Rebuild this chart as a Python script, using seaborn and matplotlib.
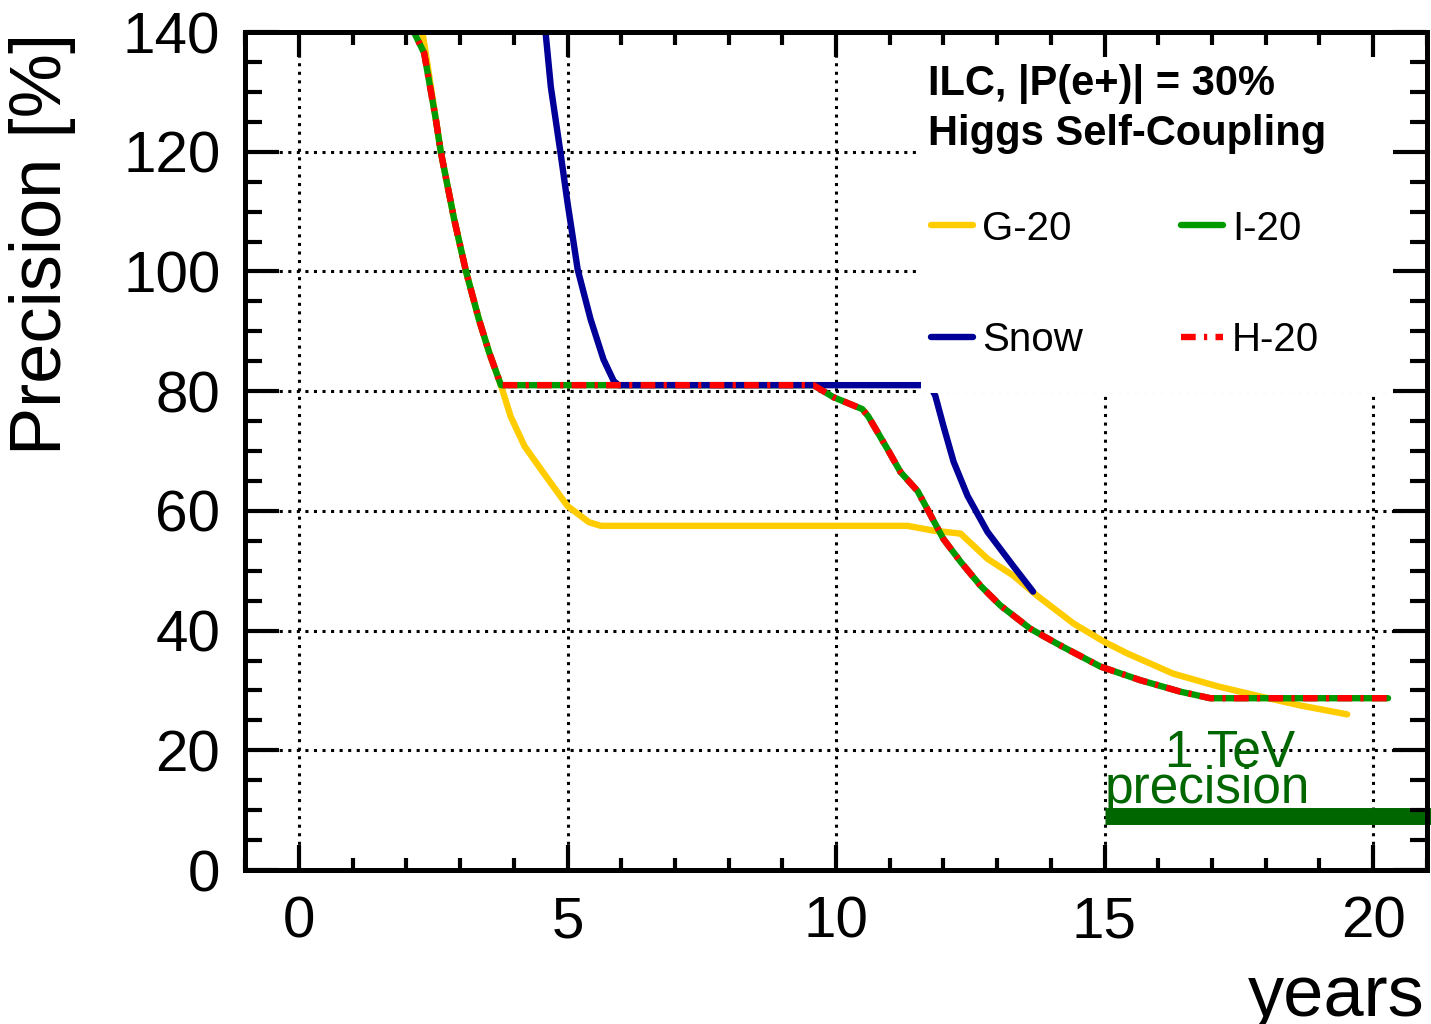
import matplotlib
matplotlib.use("Agg")
import matplotlib.pyplot as plt
from matplotlib.patches import Rectangle
from matplotlib.ticker import MultipleLocator
import pandas as pd
import seaborn as sns

# ---------------- data ----------------
g20_years = [2.28, 2.36, 2.55, 2.64, 2.89, 3.11, 3.35, 3.54, 3.76, 3.94, 4.2, 4.5,
             5.0, 5.4, 5.62, 11.33, 11.81, 12.32, 12.82, 13.3, 13.75, 14.42, 14.98,
             15.42, 16.28, 17.1, 17.9, 18.64, 19.52]
g20_prec = [141.0, 136.5, 125.3, 120.0, 108.7, 100.0, 92.0, 86.5, 81.0, 75.8, 70.8, 67.0,
            60.8, 58.1, 57.5, 57.5, 56.7, 56.2, 52.0, 49.2, 45.8, 41.2, 38.2,
            36.2, 32.8, 30.7, 29.0, 27.5, 26.0]

i20_years = [2.05, 2.14, 2.33, 2.55, 2.64, 2.89, 3.11, 3.35, 3.54, 3.76, 9.58, 9.95,
             10.49, 10.6, 10.96, 11.2, 11.52, 11.7, 12.0, 12.32, 12.69, 13.06, 13.62,
             14.18, 14.92, 15.67, 16.41, 16.97, 20.28]
i20_prec = [142.0, 140.0, 136.5, 125.3, 120.0, 108.7, 100.0, 92.0, 86.5, 81.0, 81.0, 79.0,
            77.0, 75.8, 70.3, 66.5, 63.3, 60.3, 55.3, 51.5, 47.5, 44.2, 40.3,
            37.5, 34.0, 31.7, 29.8, 28.7, 28.7]

h20_years = [2.05, 2.14, 2.33, 2.55, 2.64, 2.89, 3.11, 3.35, 3.54, 3.76, 9.58, 9.95,
             10.49, 10.6, 10.96, 11.2, 11.52, 11.7, 12.0, 12.32, 12.69, 13.06, 13.62,
             14.18, 14.92, 15.67, 16.41, 16.97, 20.28]
h20_prec = [142.0, 140.0, 136.5, 125.3, 120.0, 108.7, 100.0, 92.0, 86.5, 81.0, 81.0, 79.0,
            77.0, 75.8, 70.3, 66.5, 63.3, 60.3, 55.3, 51.5, 47.5, 44.2, 40.3,
            37.5, 34.0, 31.7, 29.8, 28.7, 28.7]

snow_years = [4.58, 4.69, 4.87, 5.0, 5.19, 5.43, 5.67, 5.86, 5.95, 11.75, 11.85, 12.0,
              12.19, 12.45, 12.82, 13.3, 13.67]
snow_prec = [141.0, 130.8, 119.8, 111.5, 100.3, 92.0, 85.3, 81.7, 81.0, 81.0, 79.2, 74.2,
             68.2, 62.5, 56.5, 50.8, 46.5]

tev_years = [15.0, 22.0]
tev_prec = [9.0, 9.0]

x_ticks = [0, 5, 10, 15, 20]
y_ticks = [0, 20, 40, 60, 80, 100, 120, 140]

legend_title_1 = "ILC, |P(e+)| = 30%"
legend_title_2 = "Higgs Self-Coupling"

# ---------------- style ----------------
sns.set_style("ticks")
plt.rcParams["font.family"] = ["Liberation Sans", "DejaVu Sans"]
plt.rcParams["text.color"] = "black"
plt.rcParams["axes.labelcolor"] = "black"
plt.rcParams["xtick.color"] = "black"
plt.rcParams["ytick.color"] = "black"
plt.rcParams["axes.edgecolor"] = "black"

fig = plt.figure(figsize=(14.31, 10.24), dpi=100)
ax = fig.add_axes([245.3 / 1431, 154 / 1024, 1181.4 / 1431, 838 / 1024])

LW = 4.6
YELLOW = "#ffcc00"
GREEN = "#009900"
BLUE = "#000099"
RED = "#ff0000"
DKGREEN = "#006600"

df_g = pd.DataFrame({"years": g20_years, "prec": g20_prec})
df_i = pd.DataFrame({"years": i20_years, "prec": i20_prec})
df_h = pd.DataFrame({"years": h20_years, "prec": h20_prec})
df_s = pd.DataFrame({"years": snow_years, "prec": snow_prec})
df_t = pd.DataFrame({"years": tev_years, "prec": tev_prec})

sns.lineplot(data=df_g, x="years", y="prec", ax=ax, color=YELLOW, lw=LW,
             estimator=None, sort=False, label="G-20", zorder=2.0)
sns.lineplot(data=df_i, x="years", y="prec", ax=ax, color=GREEN, lw=LW,
             estimator=None, sort=False, label="I-20", zorder=2.1)
sns.lineplot(data=df_s, x="years", y="prec", ax=ax, color=BLUE, lw=LW,
             estimator=None, sort=False, label="Snow", zorder=2.2)
sns.lineplot(data=df_h, x="years", y="prec", ax=ax, color=RED, lw=LW,
             estimator=None, sort=False, label="H-20", zorder=2.3)
ax.lines[-1].set_linestyle((0, (2.3, 1.3, 0.5, 1.3)))

sns.lineplot(data=df_t, x="years", y="prec", ax=ax, color=DKGREEN, lw=12.2,
             estimator=None, sort=False, zorder=2.5, legend=False)
ax.lines[-1].set_clip_on(False)
ax.lines[-1].set_solid_capstyle("butt")

ax.text(17.33, 17.3, "1 TeV", color=DKGREEN, fontsize=37, ha="center",
        va="baseline", zorder=3)
ax.text(15.0, 11.2, "precision", color=DKGREEN, fontsize=37, ha="left",
        va="baseline", zorder=3)

# axes ranges / ticks
ax.set_xlim(-1, 21)
ax.set_ylim(0, 140)
ax.set_xticks(x_ticks)
ax.set_yticks(y_ticks)
ax.xaxis.set_minor_locator(MultipleLocator(1))
ax.yaxis.set_minor_locator(MultipleLocator(5))
ax.set_xlabel("")
ax.set_ylabel("")

ax.tick_params(which="both", direction="in", top=True, right=True, width=3,
               color="black", labelcolor="black")
ax.tick_params(axis="x", which="major", length=18, pad=18, labelsize=42)
ax.tick_params(axis="x", which="minor", length=9)
ax.tick_params(axis="y", which="major", length=24.5, pad=18, labelsize=42)
ax.tick_params(axis="y", which="minor", length=12)
for sp in ax.spines.values():
    sp.set_visible(True)
    sp.set_linewidth(3.6)
    sp.set_color("black")
    sp.set_zorder(10)
ax.xaxis.set_zorder(10)
ax.yaxis.set_zorder(10)

# dotted grid at major ticks
for v in x_ticks:
    ax.axvline(v, color="black", lw=2.2, ls=(0, (1, 1.8)), zorder=1)
for v in y_ticks[1:-1]:
    ax.axhline(v, color="black", lw=2.2, ls=(0, (1, 1.8)), zorder=1)

# white legend box
ax.add_patch(Rectangle((0.572, 0.569), 0.43, 0.435, transform=ax.transAxes,
                       facecolor="white", edgecolor="none", zorder=4,
                       clip_on=False))

ax.text(0.578, 0.925, legend_title_1, transform=ax.transAxes, fontsize=30,
        fontweight="bold", ha="left", va="baseline", zorder=6, color="black")
ax.text(0.578, 0.865, legend_title_2, transform=ax.transAxes, fontsize=30,
        fontweight="bold", ha="left", va="baseline", zorder=6, color="black")

handles, labels = ax.get_legend_handles_labels()
order = [labels.index(n) for n in ["G-20", "Snow", "I-20", "H-20"]]
leg = ax.legend([handles[i] for i in order], [labels[i] for i in order],
                ncol=2, frameon=False, fontsize=29, loc="center left",
                bbox_to_anchor=(0.5804, 0.699), borderpad=0, borderaxespad=0,
                handlelength=1.04, handletextpad=0.22, columnspacing=2.45,
                labelspacing=1.82, labelcolor="black")
leg.set_zorder(7)

fig.text(43 / 1431, 1 - 33 / 1024, "Precision [%]", rotation=90, fontsize=52,
         ha="center", va="top", color="black")
fig.text(1425 / 1431, 1 - 1016 / 1024, "years", fontsize=52, ha="right",
         va="baseline", color="black")

fig.savefig("out.png", dpi=100, facecolor="white")
